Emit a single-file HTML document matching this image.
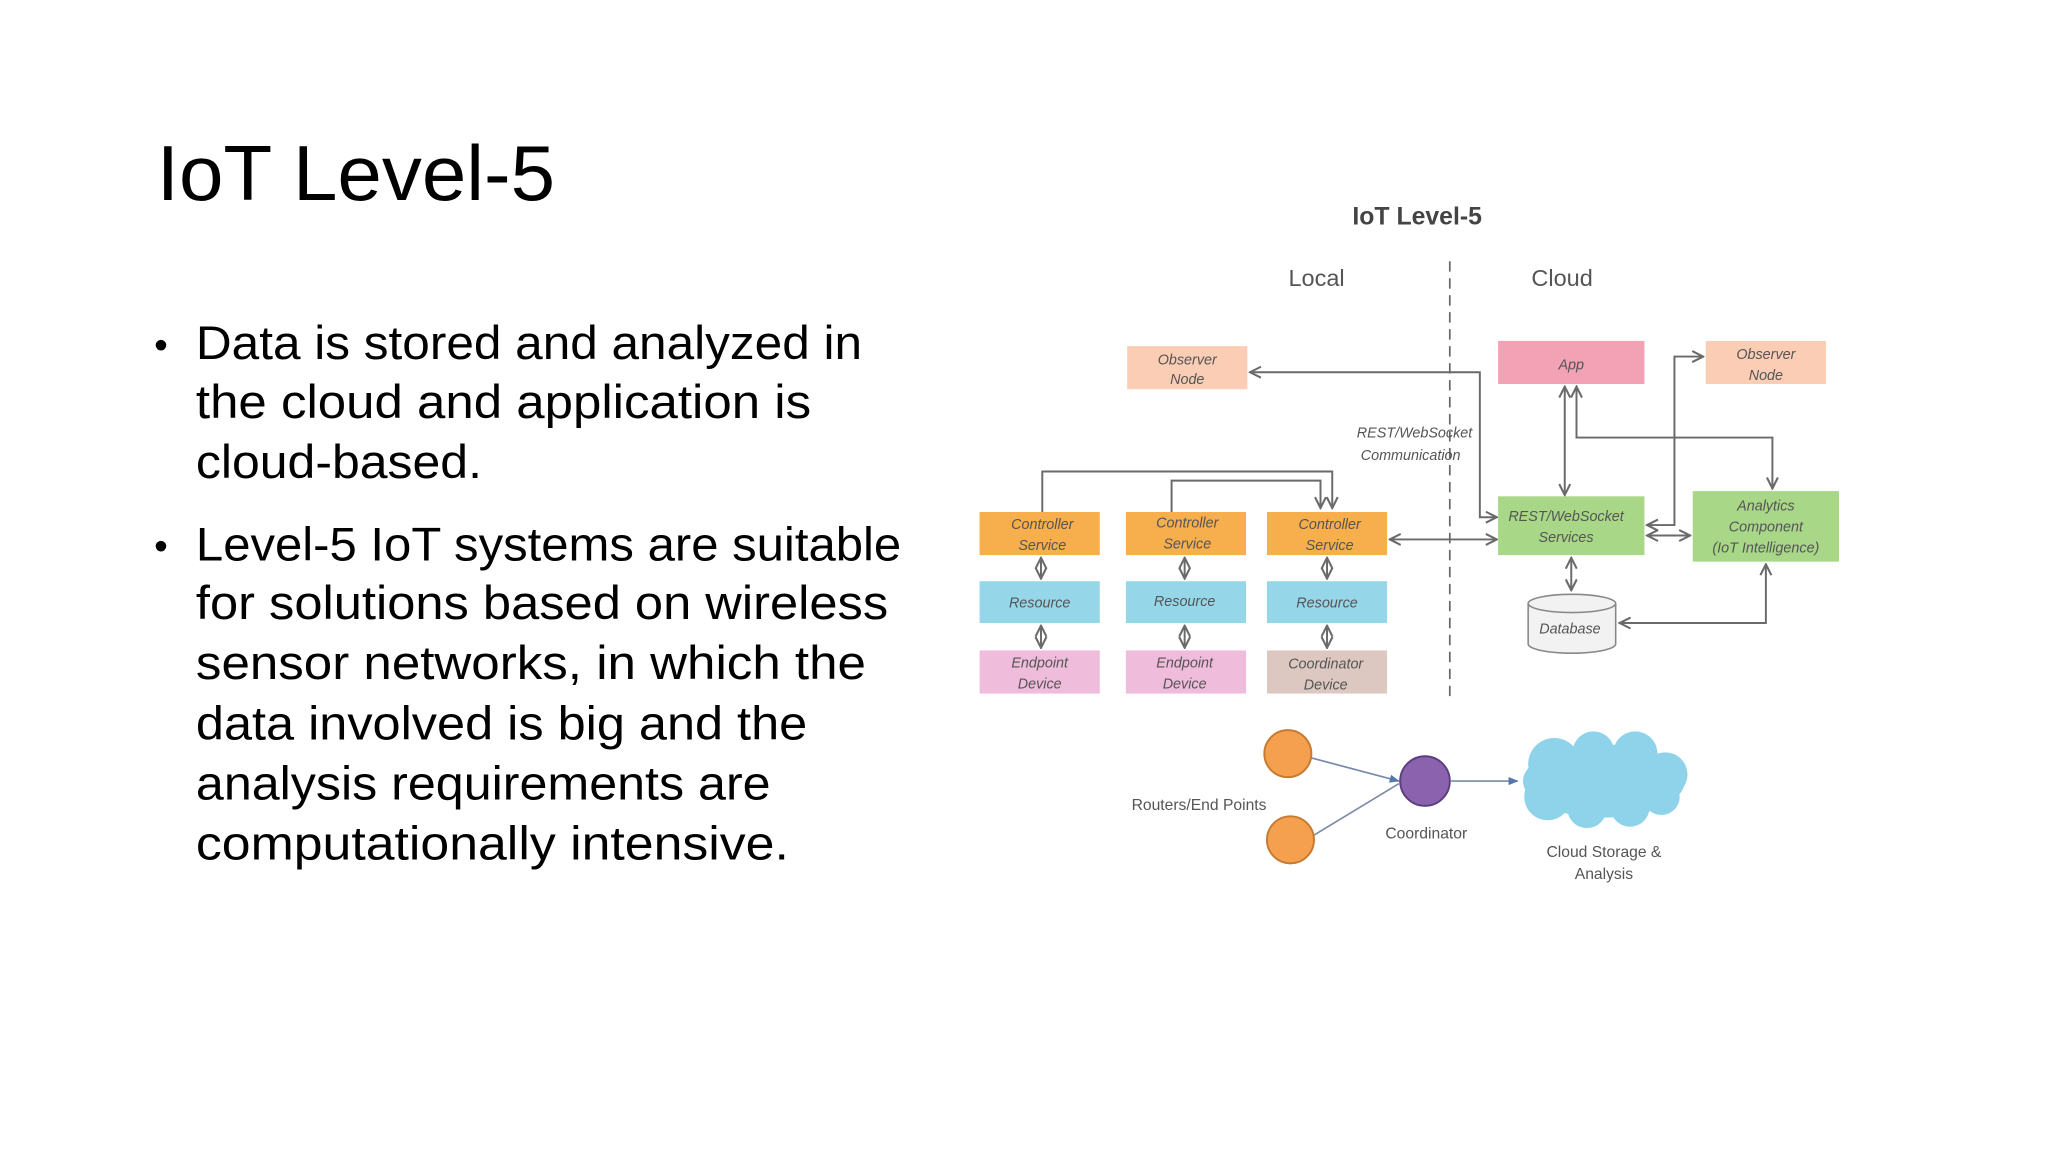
<!DOCTYPE html>
<html><head><meta charset="utf-8"><style>
html,body{margin:0;padding:0;background:#fff;width:2048px;height:1152px;overflow:hidden}
svg{display:block}
.t{font-family:"Liberation Sans",sans-serif;fill:#000}
.d{font-family:"Liberation Sans",sans-serif;fill:#555;font-style:italic;font-size:11px;text-anchor:middle}
.n{font-family:"Liberation Sans",sans-serif;fill:#555;font-size:12px;text-anchor:middle}
.l{fill:none;stroke:#6a6a6a;stroke-width:1.5}
</style></head><body>
<svg width="2048" height="1152" viewBox="0 0 1568 882" xmlns="http://www.w3.org/2000/svg">
<defs>
<marker id="a" viewBox="0 0 10 10" refX="9" refY="5" markerWidth="7" markerHeight="7" orient="auto-start-reverse"><path d="M1,1 L9,5 L1,9" fill="none" stroke="#6a6a6a" stroke-width="1.5"/></marker>
<marker id="b" viewBox="0 0 10 10" refX="9" refY="5" markerWidth="6" markerHeight="6" orient="auto"><path d="M0,1 L10,5 L0,9z" fill="#5577aa"/></marker>
</defs>
<text class="t" x="120" y="153" font-size="60" textLength="305" lengthAdjust="spacingAndGlyphs">IoT Level-5</text>
<g class="t" font-size="36">
<text x="118" y="274" font-size="30">•</text>
<text x="150" y="275" textLength="510" lengthAdjust="spacingAndGlyphs">Data is stored and analyzed in</text>
<text x="150" y="320" textLength="471" lengthAdjust="spacingAndGlyphs">the cloud and application is</text>
<text x="150" y="366" textLength="219" lengthAdjust="spacingAndGlyphs">cloud-based.</text>
<text x="118" y="428" font-size="30">•</text>
<text x="150" y="429" textLength="540" lengthAdjust="spacingAndGlyphs">Level-5 IoT systems are suitable</text>
<text x="150" y="474" textLength="530" lengthAdjust="spacingAndGlyphs">for solutions based on wireless</text>
<text x="150" y="520" textLength="513" lengthAdjust="spacingAndGlyphs">sensor networks, in which the</text>
<text x="150" y="566" textLength="468" lengthAdjust="spacingAndGlyphs">data involved is big and the</text>
<text x="150" y="612" textLength="440" lengthAdjust="spacingAndGlyphs">analysis requirements are</text>
<text x="150" y="658" textLength="454" lengthAdjust="spacingAndGlyphs">computationally intensive.</text>
</g>
<!-- diagram -->
<text x="1085" y="172" font-family="Liberation Sans,sans-serif" font-weight="bold" font-size="19" fill="#444" text-anchor="middle">IoT Level-5</text>
<text x="1008" y="219" font-family="Liberation Sans,sans-serif" font-size="18" fill="#555" text-anchor="middle">Local</text>
<text x="1196" y="219" font-family="Liberation Sans,sans-serif" font-size="18" fill="#555" text-anchor="middle">Cloud</text>
<line x1="1110" y1="200" x2="1110" y2="533" stroke="#666" stroke-width="1.3" stroke-dasharray="8,5"/>
<!-- connectors -->
<path class="l" d="M957,285 H1133 V396 H1146" marker-start="url(#a)" marker-end="url(#a)"/>
<path class="l" d="M1064,413 H1146" marker-start="url(#a)" marker-end="url(#a)"/>
<path class="l" d="M798,392 V361 H1020 V389" marker-end="url(#a)"/>
<path class="l" d="M897,392 V368 H1011 V389" marker-end="url(#a)"/>
<g class="l">
<path d="M797,427 V443" marker-start="url(#a)" marker-end="url(#a)"/>
<path d="M797,479 V496" marker-start="url(#a)" marker-end="url(#a)"/>
<path d="M907,427 V443" marker-start="url(#a)" marker-end="url(#a)"/>
<path d="M907,479 V496" marker-start="url(#a)" marker-end="url(#a)"/>
<path d="M1016,427 V443" marker-start="url(#a)" marker-end="url(#a)"/>
<path d="M1016,479 V496" marker-start="url(#a)" marker-end="url(#a)"/>
<path d="M1198,296 V379" marker-start="url(#a)" marker-end="url(#a)"/>
<path d="M1207,296 V335 H1357 V374" marker-start="url(#a)" marker-end="url(#a)"/>
<path d="M1261,402 H1282 V273 H1304" marker-start="url(#a)" marker-end="url(#a)"/>
<path d="M1261,410 H1294" marker-start="url(#a)" marker-end="url(#a)"/>
<path d="M1203,427 V452" marker-start="url(#a)" marker-end="url(#a)"/>
<path d="M1240,477 H1352 V432" marker-start="url(#a)" marker-end="url(#a)"/>
</g>
<!-- boxes -->
<rect x="863" y="265" width="92" height="33" fill="#fbcdb5"/>
<text class="d" x="909" y="279">Observer</text><text class="d" x="909" y="294">Node</text>
<rect x="1147" y="261" width="112" height="33" fill="#f3a1b5"/>
<text class="d" x="1203" y="283">App</text>
<rect x="1306" y="261" width="92" height="33" fill="#fbcdb5"/>
<text class="d" x="1352" y="275">Observer</text><text class="d" x="1352" y="291">Node</text>
<text class="d" x="1083" y="335">REST/WebSocket</text><text class="d" x="1080" y="352">Communication</text>
<g>
<rect x="750" y="392" width="92" height="33" fill="#f7ae4c"/>
<rect x="862" y="392" width="92" height="33" fill="#f7ae4c"/>
<rect x="970" y="392" width="92" height="33" fill="#f7ae4c"/>
<rect x="750" y="445" width="92" height="32" fill="#95d6e9"/>
<rect x="862" y="445" width="92" height="32" fill="#95d6e9"/>
<rect x="970" y="445" width="92" height="32" fill="#95d6e9"/>
<rect x="750" y="498" width="92" height="33" fill="#efbcdc"/>
<rect x="862" y="498" width="92" height="33" fill="#efbcdc"/>
<rect x="970" y="498" width="92" height="33" fill="#dcc8c0"/>
</g>
<text class="d" x="798" y="405">Controller</text><text class="d" x="798" y="421">Service</text>
<text class="d" x="909" y="404">Controller</text><text class="d" x="909" y="420">Service</text>
<text class="d" x="1018" y="405">Controller</text><text class="d" x="1018" y="421">Service</text>
<text class="d" x="796" y="465">Resource</text><text class="d" x="907" y="464">Resource</text><text class="d" x="1016" y="465">Resource</text>
<text class="d" x="796" y="511">Endpoint</text><text class="d" x="796" y="527">Device</text>
<text class="d" x="907" y="511">Endpoint</text><text class="d" x="907" y="527">Device</text>
<text class="d" x="1015" y="512">Coordinator</text><text class="d" x="1015" y="528">Device</text>
<rect x="1147" y="380" width="112" height="45" fill="#a8d788"/>
<text class="d" x="1199" y="399">REST/WebSocket</text><text class="d" x="1199" y="415">Services</text>
<rect x="1296" y="376" width="112" height="54" fill="#a8d788"/>
<text class="d" x="1352" y="391">Analytics</text><text class="d" x="1352" y="407">Component</text><text class="d" x="1352" y="423">(IoT Intelligence)</text>
<path d="M1170,462 V493 A33,7 0 0 0 1237,493 V462" fill="#f2f2f2" stroke="#888" stroke-width="1.2"/>
<ellipse cx="1203.5" cy="462" rx="33.5" ry="7" fill="#f2f2f2" stroke="#888" stroke-width="1.2"/>
<text class="d" x="1202" y="485" font-size="12">Database</text>
<!-- bottom -->
<line x1="1003" y1="580" x2="1071" y2="598" stroke="#7a8aa8" stroke-width="1.3" marker-end="url(#b)"/>
<line x1="1005" y1="640" x2="1071" y2="600" stroke="#7a8aa8" stroke-width="1.3"/>
<line x1="1111" y1="598" x2="1162" y2="598" stroke="#7a8aa8" stroke-width="1.3" marker-end="url(#b)"/>
<circle cx="986" cy="577" r="18" fill="#f4a04e" stroke="#c77a30" stroke-width="1.5"/>
<circle cx="988" cy="643" r="18" fill="#f4a04e" stroke="#c77a30" stroke-width="1.5"/>
<circle cx="1091" cy="598" r="19" fill="#8a62ad" stroke="#5d3f80" stroke-width="1.5"/>
<g fill="#8fd3ea">
<ellipse cx="1228" cy="598" rx="62" ry="28"/>
<circle cx="1190" cy="585" r="20"/><circle cx="1220" cy="576" r="16"/><circle cx="1252" cy="577" r="17"/>
<circle cx="1275" cy="593" r="17"/><circle cx="1185" cy="610" r="18"/><circle cx="1215" cy="619" r="15"/>
<circle cx="1248" cy="618" r="15"/><circle cx="1272" cy="610" r="14"/>
</g>
<text class="n" x="918" y="620">Routers/End Points</text>
<text class="n" x="1092" y="642">Coordinator</text>
<text class="n" x="1228" y="656">Cloud Storage &amp;</text>
<text class="n" x="1228" y="673">Analysis</text>
</svg>
</body></html>
